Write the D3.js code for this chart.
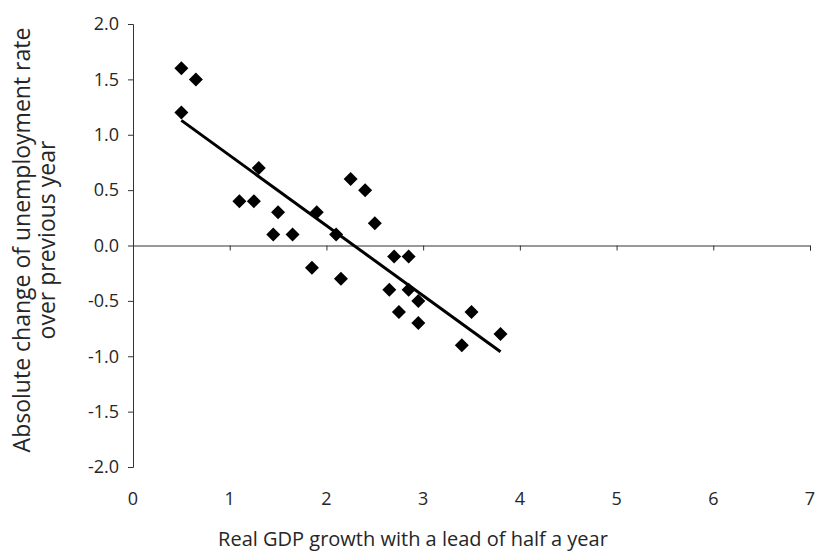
<!DOCTYPE html>
<html>
<head>
<meta charset="utf-8">
<script src="https://cdn.jsdelivr.net/npm/d3@7"></script>
<style>
    body { margin: 0; background: #fff; }
    svg text { font-family: "Open Sans", "DejaVu Sans", sans-serif; fill: #262626; }
</style>
</head>
<body>
<div id="chart"></div>
<script>
// GDP growth (x) and change of unemployment rate (y)
const gdpGrowth = [0.50, 0.65, 0.50, 1.30, 1.10, 1.25, 1.50, 1.45, 1.65, 1.90, 2.10, 2.25, 2.40, 2.50,
                   1.85, 2.15, 2.70, 2.85, 2.65, 2.85, 2.95, 2.75, 2.95, 3.50, 3.40, 3.80];
const unempChange = [1.6, 1.5, 1.2, 0.7, 0.4, 0.4, 0.3, 0.1, 0.1, 0.3, 0.1, 0.6, 0.5, 0.2,
                     -0.2, -0.3, -0.1, -0.1, -0.4, -0.4, -0.5, -0.6, -0.7, -0.6, -0.9, -0.8];

// linear trend end points
const trendX = [0.5, 3.8];
const trendY = [1.13, -0.96];

const xTicks = [0, 1, 2, 3, 4, 5, 6, 7];
const yTicks = [2.0, 1.5, 1.0, 0.5, 0.0, -0.5, -1.0, -1.5, -2.0];

const xTitle = "Real GDP growth with a lead of half a year";
const yTitle = ["Absolute change of unemployment rate", "over previous year"];

let margin = { top: 24, right: 5, bottom: 89, left: 133 };
let width = 815 - margin.left - margin.right,
    height = 556 - margin.top - margin.bottom;

let svg = d3.select("#chart").append("svg")
    .attr("width", 815)
    .attr("height", 556)
    .append("g")
    .attr("transform", "translate(" + margin.left + "," + margin.top + ")");

let x = d3.scaleLinear().domain([0, 7]).range([0, width]);
let y = d3.scaleLinear().domain([-2, 2]).range([height, 0]);

let fmt = d => d3.format(".1f")(d).replace("\u2212", "-");

// y axis on the left
let yAxis = d3.axisLeft(y)
    .tickValues(yTicks)
    .tickFormat(fmt)
    .tickSizeOuter(0)
    .tickSize(5)
    .tickPadding(9);

svg.append("g")
    .attr("class", "y-axis axis")
    .call(yAxis)
    .call(g => g.selectAll("text").style("font-size", "18px").attr("fill", "#262626"));

// x axis crosses at zero, labels placed at the bottom
let xAxis = d3.axisBottom(x)
    .tickValues(xTicks)
    .tickFormat("")
    .tickSizeOuter(0)
    .tickSize(5);

svg.append("g")
    .attr("class", "x-axis axis")
    .attr("transform", "translate(0," + y(0) + ")")
    .call(xAxis);

svg.append("g")
    .selectAll("text")
    .data(xTicks)
    .join("text")
    .attr("x", d => x(d))
    .attr("y", height + 38)
    .attr("text-anchor", "middle")
    .style("font-size", "18px")
    .text(d => d);

svg.selectAll(".axis path, .axis line").attr("stroke", "#333").attr("stroke-width", 1);

// trend line
let line = d3.line()
    .x(d => x(d[0]))
    .y(d => y(d[1]));

svg.append("path")
    .datum(d3.zip(trendX, trendY))
    .attr("fill", "none")
    .attr("stroke", "#000")
    .attr("stroke-width", 3)
    .attr("d", line);

// diamonds
let r = 7;
svg.append("g")
    .selectAll("path")
    .data(d3.zip(gdpGrowth, unempChange))
    .join("path")
    .attr("transform", d => "translate(" + x(d[0]) + "," + y(d[1]) + ")")
    .attr("d", "M0," + (-r) + "L" + r + ",0L0," + r + "L" + (-r) + ",0Z")
    .attr("fill", "#000");

// axis titles
svg.append("text")
    .attr("x", 413 - margin.left)
    .attr("y", 546 - margin.top)
    .attr("text-anchor", "middle")
    .style("font-size", "20px")
    .text(xTitle);

let yt = svg.append("text")
    .attr("transform", "translate(" + (30 - margin.left) + "," + (240 - margin.top) + ") rotate(-90)")
    .attr("text-anchor", "middle")
    .style("font-size", "23px");

yt.selectAll("tspan")
    .data(yTitle)
    .join("tspan")
    .attr("x", 0)
    .attr("dy", (d, i) => i === 0 ? 0 : 25)
    .text(d => d);
</script>
</body>
</html>
